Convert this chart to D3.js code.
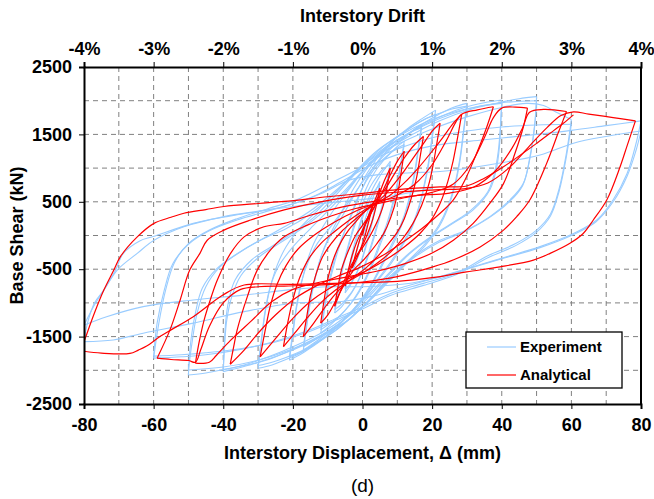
<!DOCTYPE html>
<html>
<head>
<meta charset="utf-8">
<title>Base shear hysteresis</title>
<script src="https://d3js.org/d3.v7.min.js"></script>
<style>
  body { margin: 0; background: #fff; }
  text { font-family: "Liberation Sans", Arial, Helvetica, sans-serif; }
  .axis text { font-weight: bold; font-size: 18px; fill: #000; }
  .axis path, .axis line { stroke: #000; }
  .grid line { stroke: #808080; stroke-dasharray: 5,4; stroke-width: 1; }
</style>
</head>
<body>
<div id="chart"></div>
<script>
// tick values
var xTicks = [-80, -60, -40, -20, 0, 20, 40, 60, 80];
var driftTicks = [-4, -3, -2, -1, 0, 1, 2, 3, 4];
var yTicks = [2500, 1500, 500, -500, -1500, -2500];

// experiment: [displacement mm, shear kN]
var exp03 = [[0,0],[1,180],[2,350],[3,500],[2,300],[1,100],[0,-100],[-1,-280],[-2,-420],[-3,-550]];
var exp05 = [[-3,-550],[-2,-320],[-1,-100],[0,100],[1,280],[2,430],[3,560],[4,690],[5,800],
  [4,520],[3,280],[2,60],[1,-140],[0,-320],[-1,-470],[-2,-590],[-3,-690],[-4,-780],[-5,-850],
  [-4,-580],[-3,-340],[-2,-120],[-1,80],[0,260],[1,400],[2,520],[3,620],[4,700],[5,750],
  [4,480],[3,240],[2,20],[1,-170],[0,-340],[-1,-480],[-2,-590],[-3,-680],[-4,-750],[-5,-800]];
var exp08 = [[-5,-800],[-4,-520],[-3,-270],[-1.5,40],[0,300],[1.5,520],[3,700],[4.5,840],[6,960],[8,1100],
  [7,800],[6,520],[4.5,220],[3,-50],[1.5,-300],[0,-520],[-1.5,-700],[-3,-840],[-4.5,-950],[-6,-1060],[-8,-1150],
  [-7,-850],[-6,-570],[-4.5,-260],[-3,20],[-1.5,260],[0,470],[1.5,650],[3,790],[4.5,900],[6,990],[8,1050],
  [7,760],[6,480],[4.5,180],[3,-90],[1.5,-330],[0,-540],[-1.5,-700],[-3,-830],[-4.5,-930],[-6,-1020],[-8,-1100]];
var exp12 = [[-8,-1100],[-7,-800],[-6,-520],[-4.5,-220],[-3,60],[-1.5,330],[0,560],[2,800],[4,980],[6,1110],[8,1220],[10,1320],[12,1400],
  [11,1080],[10,780],[8.5,450],[7,180],[5,-100],[3,-380],[1,-620],[-1,-820],[-3,-980],[-5,-1110],[-7,-1220],[-9.5,-1340],[-12,-1450],
  [-11,-1130],[-10,-830],[-8.5,-500],[-7,-220],[-5,80],[-3,350],[-1,600],[1,800],[3,960],[5,1080],[7,1180],[9.5,1280],[12,1350],
  [11,1040],[10,740],[8.5,400],[7,130],[5,-150],[3,-420],[1,-650],[-1,-840],[-3,-990],[-5,-1110],[-7,-1210],[-9.5,-1310],[-12,-1400]];
var exp17 = [[-12,-1400],[-11,-1080],[-10,-780],[-8.5,-440],[-7,-180],[-5,80],[-3,320],[-1,580],[1,820],[3,1000],[6,1200],[9,1340],[12,1450],[15,1580],[17,1650],
  [16,1300],[15,950],[13.5,580],[12,300],[10,40],[7.5,-220],[5,-480],[2.5,-720],[0,-920],[-3,-1120],[-6,-1280],[-9,-1400],[-12,-1520],[-15,-1630],[-17,-1700],
  [-16,-1340],[-15,-1000],[-13.5,-620],[-12,-330],[-10,-60],[-7.5,200],[-5,450],[-2.5,700],[0,900],[3,1100],[6,1250],[9,1370],[12,1470],[15,1560],[17,1600],
  [16,1250],[15,900],[13.5,540],[12,260],[10,0],[7.5,-260],[5,-510],[2.5,-740],[0,-940],[-3,-1130],[-6,-1280],[-9,-1390],[-12,-1490],[-15,-1590],[-17,-1650]];
var exp21 = [[-17,-1650],[-16,-1300],[-15,-960],[-13.5,-600],[-12,-330],[-10,-80],[-7,180],[-4,450],[-1,720],[2,980],[5,1200],[9,1420],[13,1590],[17,1730],[21,1860],
  [20,1480],[19,1100],[17.5,700],[16,400],[14,120],[11,-160],[8,-400],[4.5,-640],[1,-880],[-3,-1120],[-7,-1340],[-11,-1520],[-15,-1670],[-18,-1770],[-21,-1850],
  [-20,-1470],[-19,-1090],[-17.5,-700],[-16,-400],[-14,-120],[-11,160],[-8,400],[-4.5,640],[-1,880],[3,1120],[7,1330],[11,1500],[15,1640],[18,1730],[21,1800],
  [20,1430],[19,1060],[17.5,670],[16,370],[14,90],[11,-190],[8,-430],[4.5,-660],[1,-900],[-3,-1130],[-7,-1340],[-11,-1510],[-15,-1650],[-18,-1740],[-21,-1800]];
var exp30 = [[-21,-1800],[-20,-1420],[-19,-1050],[-17.5,-680],[-15.5,-380],[-13,-120],[-9,140],[-5,420],[-1,720],[3,1000],[8,1280],[13,1500],[18,1680],[22,1800],[26,1900],[30,1960],
  [29,1550],[28,1150],[26.5,760],[24.5,430],[22,160],[18,-120],[13,-380],[8,-640],[3,-900],[-2,-1150],[-7,-1380],[-12,-1560],[-17,-1720],[-22,-1840],[-26,-1920],[-30,-1970],
  [-29,-1560],[-28,-1160],[-26.5,-770],[-24.5,-440],[-22,-170],[-18,110],[-13,370],[-8,630],[-3,890],[2,1140],[7,1360],[12,1540],[17,1700],[22,1810],[26,1880],[30,1920],
  [29,1510],[28,1110],[26.5,720],[24.5,400],[22,130],[18,-150],[13,-400],[8,-660],[3,-920],[-2,-1160],[-7,-1380],[-12,-1550],[-17,-1700],[-22,-1810],[-26,-1880],[-30,-1930]];
var exp40 = [[-30,-1930],[-29,-1520],[-28,-1130],[-26.5,-760],[-24,-450],[-20,-170],[-15,100],[-10,360],[-5,640],[0,950],[5,1220],[11,1450],[17,1630],[24,1800],[30,1910],[35,1970],[40,2010],
  [39.7,1660],[39.3,1300],[38.5,1000],[36.6,680],[31.8,380],[26,180],[20,-20],[14,-250],[8,-560],[2,-900],[-4,-1200],[-10,-1420],[-18,-1640],[-26,-1820],[-33,-1930],[-40,-2020],
  [-39.7,-1650],[-39.3,-1280],[-38.5,-980],[-36.6,-660],[-31.8,-360],[-26,-160],[-20,40],[-14,270],[-8,580],[-2,920],[4,1210],[10,1420],[18,1640],[26,1810],[33,1910],[40,1960],
  [39.6,1600],[39,1250],[38,950],[36,650],[31,370],[25,160],[19,-40],[13,-280],[7,-590],[1,-920],[-5,-1210],[-11,-1420],[-19,-1630],[-27,-1800],[-34,-1920],[-40,-1990]];
var exp50 = [[-40,-1990],[-39.6,-1620],[-39,-1260],[-37.5,-900],[-35,-600],[-30,-330],[-24,-120],[-18,80],[-12,320],[-6,620],[0,950],[6,1230],[13,1460],[22,1700],[31,1870],[40,1980],[45,2030],[50,2060],
  [49.5,1665],[48.1,1170],[46.2,775],[42.4,530],[36.6,280],[29.9,80],[22.3,-70],[15,-300],[8,-600],[2,-950],[-4,-1250],[-10,-1450],[-20,-1700],[-30,-1880],[-40,-1990],[-45,-2040],[-50,-2070],
  [-49.5,-1650],[-48,-1150],[-46,-780],[-42,-500],[-36,-270],[-29,-60],[-22,100],[-15,320],[-8,620],[-2,950],[4,1250],[10,1460],[20,1720],[30,1880],[40,1970],[50,2000],
  [49.4,1600],[48,1120],[46,740],[42,490],[36,250],[29,50],[22,-100],[15,-320],[8,-620],[2,-960],[-4,-1250],[-10,-1440],[-20,-1680],[-30,-1850],[-40,-1950],[-50,-1995]];
var exp60 = [[-50,-1995],[-49,-1600],[-47.5,-1150],[-45,-760],[-41,-470],[-35,-240],[-28,-30],[-21,170],[-14,400],[-7,700],[0,1030],[6,1250],[12,1400],[20,1580],[30,1760],[40,1900],[47,1960],[52,1930],[56,1820],[60,1720],
  [58.5,1200],[56.5,700],[54,320],[50,80],[44,-120],[36,-300],[27,-560],[17.5,-710],[8,-860],[0,-1060],[-6.5,-1205],[-15,-1400],[-25,-1570],[-35,-1690],[-45,-1770],[-52,-1800],[-60,-1820],
  [-58.5,-1300],[-56.5,-800],[-54,-400],[-50,-120],[-44,80],[-36,250],[-27,400],[-18,550],[-9,780],[0,1020],[6,1200],[12,1320],[20,1450],[30,1550],[40,1610],[50,1640],[60,1650],
  [58.5,1150],[56.5,660],[54,290],[50,50],[44,-150],[36,-330],[27,-580],[17.5,-740],[8,-890],[0,-1090],[-6.5,-1230],[-15,-1420],[-25,-1580],[-35,-1680],[-45,-1740],[-52,-1770],[-60,-1790]];
var exp80 = [[-60,-1790],[-59,-1300],[-57,-820],[-54.5,-420],[-50,-130],[-44,70],[-36,230],[-26,380],[-15,560],[-6,800],[2,1030],[10,1200],[20,1330],[35,1420],[50,1500],[60,1560],[70,1630],[80,1700],
  [78.5,1350],[76,920],[72,530],[67.3,230],[60.6,30],[51,-165],[41.4,-315],[31.8,-465],[22.3,-610],[12,-760],[3,-900],[-6,-980],[-20,-1005],[-34,-1130],[-48.6,-1300],[-63,-1450],[-71.6,-1550],[-80,-1575],
  [-79,-1300],[-77,-1000],[-74.3,-810],[-70.4,-510],[-64.7,-265],[-59.9,-70],[-51.3,130],[-39.8,280],[-22.5,430],[-12,620],[-4,820],[4,900],[14,930],[22.3,950],[36.6,1050],[51,1195],[60.6,1370],[70,1470],[80,1550],
  [78.5,1250],[76,880],[72,500],[67,200],[60,0],[51,-180],[41,-330],[31.8,-470],[22.3,-615],[12,-720],[0,-760],[-10,-760],[-20,-800],[-34.2,-885],[-48.6,-957],[-63,-1055],[-73.5,-1205],[-80,-1330],
  [-77,-1030],[-74.3,-810],[-71,-520],[-68.7,-265],[-64,-80],[-60.1,-15],[-48.6,180],[-39,280],[-19.9,430],[-0.8,530],[10,600],[20,700]];

// analytical
var ana03 = [[0,0],[1,200],[2,330],[3,450],[2,250],[1,50],[0,-120],[-1,-260],[-2,-380],[-3,-480]];
var ana05 = [[-3,-480],[-2,-280],[-1,-100],[0,60],[1,200],[2,320],[3,450],[4,580],[5,700],
  [4,450],[3,250],[2,100],[0,-150],[-2,-330],[-3,-450],[-4,-600],[-5,-750]];
var ana08 = [[-5,-750],[-4,-500],[-3,-300],[-1.5,-80],[0,80],[2,280],[4,500],[6,780],[8,1000],
  [7,700],[6,450],[4,180],[2,-20],[0,-180],[-2,-330],[-4,-520],[-6,-780],[-8,-1050]];
var ana12 = [[-8,-1050],[-7,-750],[-6,-500],[-4,-220],[-2,0],[0,150],[2,300],[4,470],[6,680],[8,900],[10,1100],[12,1250],
  [11,900],[10,600],[8,250],[6,20],[4,-130],[2,-260],[0,-380],[-2,-480],[-4,-620],[-6,-800],[-8,-1000],[-10,-1180],[-12,-1300]];
var ana17 = [[-12,-1300],[-11,-950],[-10,-650],[-8,-300],[-6,-80],[-4,80],[-2,200],[0,320],[3,480],[6,650],[9,900],[12,1150],[15,1350],[17.5,1470],
  [16.5,1150],[15.5,850],[14,550],[12,250],[10,50],[7,-150],[4,-330],[1,-480],[-2,-600],[-5,-720],[-8,-880],[-11,-1080],[-14,-1300],[-17,-1500]];
var ana22 = [[-17,-1500],[-16,-1200],[-15,-900],[-13.5,-600],[-11.5,-320],[-9,-120],[-6,60],[-3,200],[0,330],[3,450],[6,580],[9,760],[12,960],[15,1180],[18,1400],[20,1550],[22.3,1665],
  [21.3,1350],[20.3,1050],[19,750],[17,450],[14.5,180],[11.5,-50],[8,-250],[4,-420],[0,-560],[-4,-680],[-8,-820],[-12,-1000],[-16,-1230],[-19.5,-1450],[-22.7,-1650]];
var ana28 = [[-22.7,-1650],[-21.5,-1300],[-20,-950],[-18,-620],[-15.5,-350],[-12,-120],[-8,60],[-4,220],[0,360],[4,480],[8,600],[12,780],[16,1000],[20,1250],[23,1450],[26,1660],[28.5,1800],
  [27.3,1450],[26,1100],[24.5,800],[22.5,500],[20,250],[16.5,30],[12,-170],[7,-350],[2,-500],[-4,-640],[-10,-800],[-15,-980],[-20,-1230],[-25,-1530],[-29.4,-1800]];
var ana38 = [[-29.4,-1800],[-28,-1420],[-26.5,-1050],[-24.5,-720],[-22,-450],[-18.5,-200],[-14,0],[-8,200],[-2,360],[4,480],[10,600],[15,760],[20,1050],[24,1400],[27,1700],[28.5,1800],[33,1865],[37.6,1910],
  [35.7,1610],[32.8,1220],[29.4,820],[26.1,530],[22.3,330],[17,100],[11,-120],[5,-320],[-1,-480],[-7,-600],[-13,-740],[-19,-920],[-25,-1180],[-30,-1450],[-34,-1700],[-38,-1910]];
var ana48 = [[-38,-1910],[-37,-1650],[-36,-1400],[-33.1,-910],[-30.2,-510],[-26.4,-215],[-22.5,-20],[-16,150],[-9,290],[-2,400],[5,480],[12,560],[20,640],[26,760],[31,1050],[35,1450],[37.6,1750],[40,1890],[44,1905],[47.4,1890],
  [46.2,1610],[43.8,1220],[40.5,770],[36.6,480],[31.8,180],[26.1,-70],[20,-260],[12,-420],[4,-530],[-4,-610],[-12,-690],[-20,-800],[-26,-980],[-32,-1270],[-38,-1560],[-42,-1780],[-44,-1880],[-48,-1895]];
var ana59 = [[-48,-1895],[-47,-1600],[-45.5,-1255],[-43.5,-920],[-41.7,-660],[-37.9,-265],[-34,-20],[-28.3,130],[-22.5,180],[-15,300],[-6,420],[5,520],[15,590],[25,630],[32,720],[38,950],[43,1300],[46,1600],[48,1830],[52,1870],[58.6,1840],
  [56.2,1520],[52.9,1070],[48.1,530],[44.3,280],[40.5,80],[33.8,-170],[26.2,-360],[20,-470],[10,-610],[0,-690],[-10,-730],[-22.5,-750],[-30,-760],[-35,-800],[-40,-1000],[-44,-1350],[-46.5,-1700],[-48,-1880],[-50,-1855],[-55,-1840],[-59,-1820]];
var ana80 = [[-59,-1820],[-55.3,-1400],[-52.4,-960],[-49.6,-510],[-46.7,-265],[-44.6,-70],[-39.8,80],[-32.1,230],[-22.5,380],[-12,500],[0,600],[12,650],[22,680],[30,700],[36,780],[42,1000],[48,1330],[53,1600],[57,1780],[60.6,1835],[65,1800],[72,1750],[78.4,1700],
  [76,1330],[74,1020],[70.2,530],[66.3,230],[63.4,30],[59.6,-115],[53.9,-265],[49.1,-365],[39.5,-465],[29.9,-540],[22.3,-610],[10,-680],[0,-700],[-20,-725],[-34,-735],[-40,-880],[-48.6,-1205],[-55,-1400],[-58.2,-1500],[-62,-1640],[-64.4,-1700],[-66.8,-1750],[-75,-1745],[-81,-1710],
  [-80,-1575],[-77,-1150],[-74.3,-810],[-71.5,-520],[-69.5,-310],[-64.7,-20],[-59.9,180],[-55,270],[-51.3,330],[-45,385],[-39.8,430],[-30,475],[-22.5,505],[-10,575],[0,625],[10,680],[22.3,720],[29.9,735],[35,850],[40.5,1020],[50.1,1370],[55,1560],[57.7,1665],[60.6,1790]];

var experiment = [exp03, exp05, exp08, exp12, exp17, exp21, exp30, exp40, exp50, exp60, exp80];
var analytical = [ana03, ana05, ana08, ana12, ana17, ana22, ana28, ana38, ana48, ana59, ana80];

var W = 654, H = 499;
var margin = {top: 67, right: 13, bottom: 95, left: 84};
var width = W - margin.left - margin.right;
var height = H - margin.top - margin.bottom;

var x = d3.scaleLinear().domain([-80, 80]).range([0, width]);
var xDrift = d3.scaleLinear().domain([-4, 4]).range([0, width]);
var y = d3.scaleLinear().domain([-2500, 2500]).range([height, 0]);

var svg = d3.select("#chart").append("svg")
    .attr("width", W)
    .attr("height", H);
var g = svg.append("g")
    .attr("transform", "translate(" + margin.left + "," + margin.top + ")");

g.append("clipPath").attr("id", "plotclip")
  .append("rect").attr("width", width).attr("height", height);

// dashed grid every 10 mm and 500 kN
g.append("g").attr("class", "grid")
  .selectAll("line").data(d3.range(-70, 80, 10)).enter().append("line")
    .attr("x1", d => x(d)).attr("x2", d => x(d))
    .attr("y1", 0).attr("y2", height);
g.append("g").attr("class", "grid")
  .selectAll("line").data(d3.range(-2000, 2500, 500)).enter().append("line")
    .attr("y1", d => y(d)).attr("y2", d => y(d))
    .attr("x1", 0).attr("x2", width);

// split a path into branches where the displacement reverses so peaks stay sharp
function branches(pts) {
  var out = [], cur = [pts[0]], dir = 0;
  for (var i = 1; i < pts.length; i++) {
    var d = Math.sign(pts[i][0] - pts[i - 1][0]);
    if (dir !== 0 && d !== 0 && d !== dir) {
      out.push(cur);
      cur = [pts[i - 1]];
    }
    if (d !== 0) dir = d;
    cur.push(pts[i]);
  }
  out.push(cur);
  return out;
}

var line = d3.line()
    .x(d => x(d[0]))
    .y(d => y(d[1]))
    .curve(d3.curveCatmullRom.alpha(0.5));

var plot = g.append("g").attr("clip-path", "url(#plotclip)");

plot.append("g").selectAll("path")
  .data(experiment.flatMap(branches)).enter().append("path")
    .attr("d", line)
    .attr("fill", "none")
    .attr("stroke", "#99ccff")
    .attr("stroke-width", 1.1);

plot.append("g").selectAll("path")
  .data(analytical.flatMap(branches)).enter().append("path")
    .attr("d", line)
    .attr("fill", "none")
    .attr("stroke", "#ff0000")
    .attr("stroke-width", 1.2);

// axes
g.append("g").attr("class", "axis")
  .attr("transform", "translate(0," + height + ")")
  .call(d3.axisBottom(x).tickValues(xTicks).tickSize(5).tickPadding(9).tickFormat(d => String(d)))
  .call(a => a.select(".domain").attr("stroke-width", 2));

g.append("g").attr("class", "axis")
  .call(d3.axisTop(xDrift).tickValues(driftTicks).tickSize(5).tickPadding(7).tickFormat(d => d + "%"))
  .call(a => a.select(".domain").attr("stroke-width", 2));

g.append("g").attr("class", "axis")
  .call(d3.axisLeft(y).tickValues(yTicks).tickSize(5).tickPadding(7).tickFormat(d => String(d)))
  .call(a => a.select(".domain").attr("stroke-width", 2));

g.append("line")
  .attr("x1", width).attr("x2", width).attr("y1", 0).attr("y2", height)
  .attr("stroke", "#000").attr("stroke-width", 2);

// titles
svg.append("text")
  .attr("x", margin.left + width / 2).attr("y", 22)
  .attr("text-anchor", "middle")
  .style("font-weight", "bold").style("font-size", "18px")
  .text("Interstory Drift");

svg.append("text")
  .attr("x", margin.left + width / 2).attr("y", 459)
  .attr("text-anchor", "middle")
  .style("font-weight", "bold").style("font-size", "18px")
  .text("Interstory Displacement, \u0394 (mm)");

svg.append("text")
  .attr("transform", "translate(23," + (margin.top + height / 2) + ") rotate(-90)")
  .attr("text-anchor", "middle")
  .style("font-weight", "bold").style("font-size", "18px")
  .text("Base Shear (kN)");

svg.append("text")
  .attr("x", margin.left + width / 2).attr("y", 492)
  .attr("text-anchor", "middle")
  .style("font-size", "19px")
  .text("(d)");

// legend
var legend = g.append("g")
  .attr("transform", "translate(" + (466 - margin.left) + "," + (332 - margin.top) + ")");
legend.append("rect")
  .attr("width", 156).attr("height", 56)
  .attr("fill", "#fff").attr("stroke", "#000").attr("stroke-width", 1.3);
var items = [["Experiment", "#99ccff"], ["Analytical", "#ff0000"]];
items.forEach(function (it, i) {
  var yy = 15 + i * 28;
  legend.append("line")
    .attr("x1", 21).attr("x2", 50).attr("y1", yy).attr("y2", yy)
    .attr("stroke", it[1]).attr("stroke-width", 1.2);
  legend.append("text")
    .attr("x", 54).attr("y", yy + 5)
    .style("font-weight", "bold").style("font-size", "15px")
    .text(it[0]);
});
</script>
</body>
</html>
